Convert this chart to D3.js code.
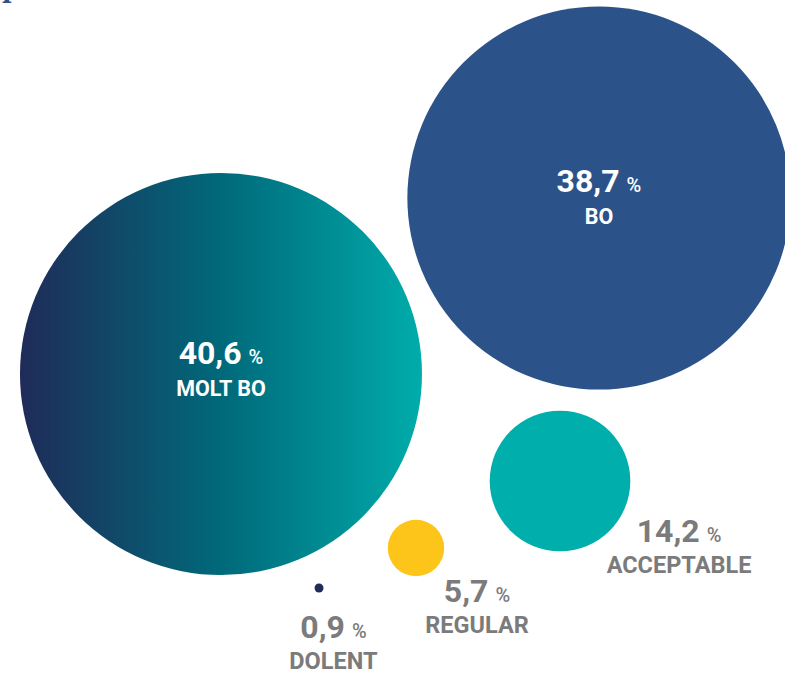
<!DOCTYPE html>
<html>
<head>
<meta charset="utf-8">
<script src="https://cdn.jsdelivr.net/npm/d3@7"></script>
<style>
  html, body { margin: 0; padding: 0; background: #fff; }
  svg { display: block; }
</style>
</head>
<body>
<svg id="chart" width="785" height="674"></svg>
<script>
// ---- data ----
const categories = ["MOLT BO", "BO", "ACCEPTABLE", "REGULAR", "DOLENT"];
const values = [40.6, 38.7, 14.2, 5.7, 0.9];
const valueLabels = ["40,6", "38,7", "14,2", "5,7", "0,9"];

// ---- layout (bubble centres as fractions of the canvas) ----
const layoutX = [0.2815, 0.7630, 0.7134, 0.5299, 0.4064];
const layoutY = [0.5549, 0.2938, 0.7136, 0.8131, 0.8724];
const fills = ["url(#gradMolt)", "#2b5389", "#00aeac", "#fdc51a", "#1f2b59"];
const inside = [true, true, false, false, false];
// label anchor positions (fractions) for the value / category labels
const labelX = [0.2815, 0.7630, 0.8650, 0.6076, 0.4248];
const labelY = [0.5401, 0.2849, 0.8042, 0.8932, 0.9466];

const W = 785, H = 674;
const svg = d3.select("#chart");
const x = d3.scaleLinear().domain([0, 1]).range([0, W]);
const y = d3.scaleLinear().domain([0, 1]).range([0, H]);
const r = d3.scaleLinear().domain([0, 40.6]).range([0, 201]);

const defs = svg.append("defs");
const g = defs.append("linearGradient").attr("id", "gradMolt")
  .attr("x1", "0%").attr("x2", "100%").attr("y1", "0%").attr("y2", "0%");
g.append("stop").attr("offset", "0%").attr("stop-color", "#1f2b59");
g.append("stop").attr("offset", "50%").attr("stop-color", "#00697a");
g.append("stop").attr("offset", "100%").attr("stop-color", "#00acab");

// cut-off title fragment at the top-left (as in the reference)
svg.append("text").attr("x", 2).attr("y", -2)
  .attr("font-family", "DejaVu Serif").attr("font-weight", "bold")
  .attr("font-size", 26).attr("fill", "#2b5389").text("p");

const data = categories.map((c, i) => ({
  cat: c, value: values[i], label: valueLabels[i],
  cx: x(layoutX[i]), cy: y(layoutY[i]), fill: fills[i], inside: inside[i],
  lx: x(labelX[i]), ly: y(labelY[i])
}));

svg.selectAll("circle.bubble").data(data).join("circle")
  .attr("class", "bubble")
  .attr("cx", d => d.cx).attr("cy", d => d.cy)
  .attr("r", d => r(d.value))
  .attr("fill", d => d.fill);

const font = "Roboto, 'Noto Sans', sans-serif";
const lab = svg.selectAll("g.lab").data(data).join("g").attr("class", "lab");

lab.append("text")
  .attr("x", d => d.lx).attr("y", d => d.ly)
  .attr("text-anchor", "middle")
  .attr("font-family", font)
  .attr("fill", d => d.inside ? "#ffffff" : "#7b7b7b")
  .each(function(d) {
    const t = d3.select(this);
    t.append("tspan").attr("font-size", 32).attr("font-weight", 700).text(d.label);
    t.append("tspan").attr("font-size", 20).attr("font-weight", 500).attr("dx", 7).text("%");
  });

lab.append("text")
  .attr("x", d => d.lx).attr("y", d => d.ly + (d.inside ? 32 : 31))
  .attr("text-anchor", "middle")
  .attr("font-family", font).attr("font-weight", 700)
  .attr("font-size", d => d.inside ? 21.5 : 23.5)
  .attr("fill", d => d.inside ? "#ffffff" : "#7b7b7b")
  .text(d => d.cat);
</script>
</body>
</html>
